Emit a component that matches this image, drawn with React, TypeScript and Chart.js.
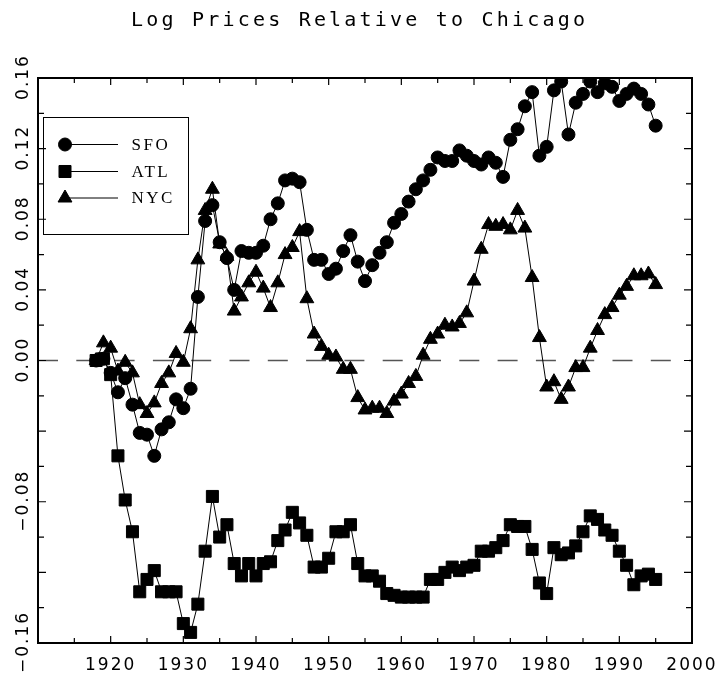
import React, { useEffect, useRef } from "react";
import { Chart, registerables } from "chart.js";
import { drawPoint } from "chart.js/helpers";

Chart.register(...registerables);

const chartTitle = "Log Prices Relative to Chicago";
const seriesNames = ["SFO", "ATL", "NYC"];
const seriesStyles = ["circle", "rect", "triangle"];
const seriesRadii = [6.5, 8.5, 8];

const years = [
  1918, 1919, 1920, 1921, 1922, 1923, 1924, 1925, 1926, 1927,
  1928, 1929, 1930, 1931, 1932, 1933, 1934, 1935, 1936, 1937,
  1938, 1939, 1940, 1941, 1942, 1943, 1944, 1945, 1946, 1947,
  1948, 1949, 1950, 1951, 1952, 1953, 1954, 1955, 1956, 1957,
  1958, 1959, 1960, 1961, 1962, 1963, 1964, 1965, 1966, 1967,
  1968, 1969, 1970, 1971, 1972, 1973, 1974, 1975, 1976, 1977,
  1978, 1979, 1980, 1981, 1982, 1983, 1984, 1985, 1986, 1987,
  1988, 1989, 1990, 1991, 1992, 1993, 1994, 1995,
];

const sfo = [
  0.0, 0.001, -0.007, -0.018, -0.01, -0.025, -0.041, -0.042, -0.054, -0.039,
  -0.035, -0.022, -0.027, -0.016, 0.036, 0.079, 0.088, 0.067, 0.058, 0.04,
  0.062, 0.061, 0.061, 0.065, 0.08, 0.089, 0.102, 0.103, 0.101, 0.074,
  0.057, 0.057, 0.049, 0.052, 0.062, 0.071, 0.056, 0.045, 0.054, 0.061,
  0.067, 0.078, 0.083, 0.09, 0.097, 0.102, 0.108, 0.115, 0.113, 0.113,
  0.119, 0.116, 0.113, 0.111, 0.115, 0.112, 0.104, 0.125, 0.131, 0.144,
  0.152, 0.116, 0.121, 0.153, 0.158, 0.128, 0.146, 0.151, 0.158, 0.152,
  0.157, 0.155, 0.147, 0.151, 0.154, 0.151, 0.145, 0.133,
];

const atl = [
  0.0, 0.001, -0.008, -0.054, -0.079, -0.097, -0.131, -0.124, -0.119, -0.131,
  -0.131, -0.131, -0.149, -0.154, -0.138, -0.108, -0.077, -0.1, -0.093, -0.115,
  -0.122, -0.115, -0.122, -0.115, -0.114, -0.102, -0.096, -0.086, -0.092, -0.099,
  -0.117, -0.117, -0.112, -0.097, -0.097, -0.093, -0.115, -0.122, -0.122, -0.125,
  -0.132, -0.133, -0.134, -0.134, -0.134, -0.134, -0.124, -0.124, -0.12, -0.117,
  -0.119, -0.117, -0.116, -0.108, -0.108, -0.106, -0.102, -0.093, -0.094, -0.094,
  -0.107, -0.126, -0.132, -0.106, -0.11, -0.109, -0.105, -0.097, -0.088, -0.09,
  -0.096, -0.099, -0.108, -0.116, -0.127, -0.122, -0.121, -0.124,
];

const nyc = [
  0.0, 0.01, 0.007, -0.006, -0.001, -0.007, -0.025, -0.03, -0.024, -0.013,
  -0.007, 0.004, -0.001, 0.018, 0.057, 0.085, 0.097, 0.066, 0.059, 0.028,
  0.036, 0.044, 0.05, 0.041, 0.03, 0.044, 0.06, 0.064, 0.073, 0.035,
  0.015, 0.008, 0.003, 0.002, -0.005, -0.005, -0.021, -0.028, -0.027, -0.027,
  -0.03, -0.023, -0.019, -0.013, -0.009, 0.003, 0.012, 0.015, 0.02, 0.019,
  0.021, 0.027, 0.045, 0.063, 0.077, 0.076, 0.077, 0.074, 0.085, 0.075,
  0.047, 0.013, -0.015, -0.012, -0.022, -0.015, -0.004, -0.004, 0.007, 0.017,
  0.026, 0.03, 0.037, 0.042, 0.048, 0.048, 0.049, 0.043,
];

const seriesValues = [sfo, atl, nyc];
const xLabelYears = [1920, 1930, 1940, 1950, 1960, 1970, 1980, 1990, 2000];
const yLabelValues = [-0.16, -0.08, 0.0, 0.04, 0.08, 0.12, 0.16];

const fmtY = (v: number) => {
  const s = Math.abs(v).toFixed(2);
  return v < -1e-9 ? "\u2212" + s : s;
};

const framePlugin = {
  id: "frame",
  beforeDraw(chart: any) {
    chart.ctx.letterSpacing = "2px";
  },
  beforeDatasetsDraw(chart: any) {
    const { ctx, chartArea: a, scales } = chart;
    const y0 = scales.y.getPixelForValue(0);
    ctx.save();
    ctx.setLineDash([20, 18.3]);
    ctx.strokeStyle = "#555";
    ctx.lineWidth = 1.3;
    ctx.beginPath();
    ctx.moveTo(a.left, y0);
    ctx.lineTo(a.right, y0);
    ctx.stroke();
    ctx.restore();
  },
  afterDraw(chart: any) {
    const { ctx, chartArea: a, scales } = chart;
    const xs = scales.x;
    const ys = scales.y;
    ctx.save();
    // frame
    ctx.strokeStyle = "#000";
    ctx.lineWidth = 2;
    ctx.strokeRect(a.left, a.top, a.right - a.left, a.bottom - a.top);
    // ticks
    ctx.lineWidth = 1.2;
    ctx.beginPath();
    xs.ticks.forEach((t: any) => {
      const px = xs.getPixelForValue(t.value);
      const len = Math.round(t.value) % 10 === 0 ? 7 : 5;
      ctx.moveTo(px, a.bottom);
      ctx.lineTo(px, a.bottom - len);
      ctx.moveTo(px, a.top);
      ctx.lineTo(px, a.top + len);
    });
    ys.ticks.forEach((t: any) => {
      const py = ys.getPixelForValue(t.value);
      const k = Math.round(t.value * 100);
      const len = k % 4 === 0 ? 8 : 6;
      ctx.moveTo(a.left, py);
      ctx.lineTo(a.left + len, py);
      ctx.moveTo(a.right, py);
      ctx.lineTo(a.right - len, py);
    });
    ctx.stroke();
    // y labels (rotated)
    ctx.fillStyle = "#000";
    ctx.font = '17px "DejaVu Sans"';
    ctx.letterSpacing = "2px";
    ctx.textAlign = "center";
    ctx.textBaseline = "middle";
    ys.ticks.forEach((t: any) => {
      const k = Math.round(t.value * 100);
      if (!yLabelValues.some((v) => Math.round(v * 100) === k)) return;
      const py = ys.getPixelForValue(t.value);
      ctx.save();
      ctx.translate(24, py);
      ctx.rotate(-Math.PI / 2);
      ctx.fillText(fmtY(k / 100), 1, 0);
      ctx.restore();
    });
    // title
    ctx.font = '20px "DejaVu Sans Mono"';
    ctx.letterSpacing = "3.2px";
    ctx.fillText(chartTitle, 358 + 1.6, 21);
    // legend
    const bx = 43.5, by = 117.5, bw = 145, bh = 117;
    ctx.lineWidth = 1;
    ctx.strokeRect(bx, by, bw, bh);
    const rowY = [144.5, 171.5, 198];
    ctx.font = '17px "Liberation Serif"';
    ctx.letterSpacing = "2.5px";
    ctx.textAlign = "left";
    seriesNames.forEach((name, i) => {
      const yy = rowY[i];
      ctx.beginPath();
      ctx.moveTo(65, yy);
      ctx.lineTo(118, yy);
      ctx.stroke();
      drawPoint(ctx, { pointStyle: seriesStyles[i], radius: seriesRadii[i], rotation: 0, borderWidth: 1 } as any, 65, yy);
      ctx.fillText(name, 131.5, yy + 1);
    });
    ctx.restore();
  },
};

export default function App() {
  const ref = useRef<HTMLCanvasElement | null>(null);
  useEffect(() => {
    document.body.style.margin = "0";
    const canvas = ref.current;
    if (!canvas) return;
    const datasets = seriesNames.map((name, i) => ({
      label: name,
      data: years.map((yr, j) => ({ x: yr, y: seriesValues[i][j] })),
      borderColor: "#000",
      backgroundColor: "#000",
      borderWidth: 1,
      pointStyle: seriesStyles[i],
      pointRadius: seriesRadii[i],
      pointBackgroundColor: "#000",
      pointBorderColor: "#000",
      pointBorderWidth: 1,
      tension: 0,
      fill: false,
    }));
    const chart = new Chart(canvas, {
      type: "line",
      data: { datasets },
      options: {
        animation: false,
        responsive: false,
        devicePixelRatio: 1,
        layout: { padding: { top: 78, right: 25, left: 0, bottom: 0 } },
        plugins: { legend: { display: false }, title: { display: false }, tooltip: { enabled: false } },
        scales: {
          x: {
            type: "linear",
            min: 1910,
            max: 2000,
            afterFit: (s: any) => {
              s.height = 30;
              s.paddingLeft = 0;
              s.paddingRight = 0;
            },
            grid: { display: false, drawTicks: false },
            border: { display: false },
            ticks: {
              stepSize: 5,
              autoSkip: false,
              maxRotation: 0,
              minRotation: 0,
              padding: 12,
              color: "#000",
              font: { family: '"DejaVu Sans"', size: 17 },
              callback: (v: any) => (xLabelYears.includes(Math.round(v)) ? String(Math.round(v)) : ""),
            },
          },
          y: {
            type: "linear",
            min: -0.16,
            max: 0.16,
            afterFit: (s: any) => {
              s.width = 38;
              s.paddingTop = 0;
              s.paddingBottom = 0;
            },
            grid: { display: false, drawTicks: false },
            border: { display: false },
            ticks: { stepSize: 0.02, display: false },
          },
        },
      },
      plugins: [framePlugin],
    } as any);
    return () => chart.destroy();
  }, []);
  return <canvas ref={ref} width={717} height={673} style={{ display: "block" }} />;
}
